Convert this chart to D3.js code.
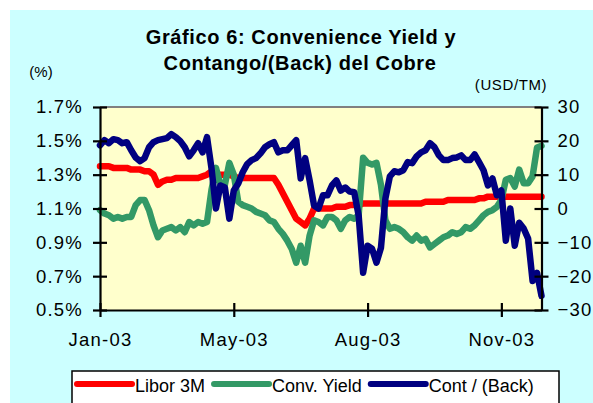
<!DOCTYPE html>
<html>
<head>
<meta charset="utf-8">
<script src="https://cdn.jsdelivr.net/npm/d3@7"></script>
<style>
  html, body { margin: 0; padding: 0; background: #ffffff; }
  svg { display: block; }
  text { font-family: "Liberation Sans", Arial, sans-serif; fill: #000; }
</style>
</head>
<body>
<svg id="chart" width="593" height="403"></svg>
<script>
// ---- data (one value per trading-day sample) ----
const libor = [1.35,1.35,1.35,1.34,1.34,1.34,1.34,1.33,1.33,1.33,
  1.32,1.32,1.30,1.24,1.26,1.27,1.27,1.28,1.28,1.28,
  1.28,1.28,1.28,1.29,1.30,1.32,1.30,1.30,1.30,1.30,
  1.29,1.28,1.28,1.28,1.28,1.28,1.28,1.28,1.28,1.28,
  1.24,1.19,1.14,1.09,1.04,1.02,1.00,1.04,1.10,1.10,
  1.10,1.10,1.10,1.11,1.11,1.11,1.12,1.12,1.12,1.13,
  1.13,1.13,1.13,1.13,1.13,1.13,1.13,1.13,1.13,1.13,
  1.13,1.13,1.13,1.14,1.14,1.14,1.14,1.14,1.15,1.15,
  1.15,1.15,1.15,1.15,1.15,1.16,1.16,1.17,1.17,1.17,
  1.17,1.17,1.17,1.17,1.17,1.17,1.17,1.17,1.17,1.17];
const convYield = [1.09,1.07,1.06,1.04,1.05,1.04,1.05,1.05,1.12,1.15,
  1.15,1.09,1.00,0.93,0.97,0.98,0.99,0.97,0.99,0.96,
  1.02,1.00,1.02,1.01,1.02,1.21,1.34,1.24,1.24,1.37,
  1.30,1.14,1.12,1.11,1.10,1.08,1.07,1.06,1.03,1.02,
  0.98,0.95,0.91,0.86,0.78,0.88,0.78,0.94,1.03,1.02,
  1.00,1.05,1.05,1.03,0.98,1.03,1.05,1.04,1.06,1.40,
  1.37,1.36,1.37,1.24,1.03,0.98,0.99,0.98,0.96,0.93,
  0.91,0.94,0.91,0.92,0.87,0.89,0.91,0.93,0.94,0.96,
  0.95,0.96,0.99,0.98,1.00,1.03,1.06,1.08,1.09,1.11,
  1.15,1.27,1.28,1.23,1.33,1.25,1.25,1.29,1.46,1.47];
const contBack = [18.7,20.2,19.3,20.5,20.2,19.3,19.6,17.2,15.1,14.0,
  14.9,18.1,19.6,20.2,20.5,20.8,22.0,21.1,19.9,18.1,
  15.4,17.2,19.3,16.6,21.1,11.9,0.0,6.8,6.2,-3.0,
  5.3,7.4,10.7,13.1,14.3,14.9,16.3,18.1,19.0,19.6,
  16.6,17.2,17.2,18.7,20.2,8.9,14.9,8.3,0.9,0.0,
  3.9,3.9,6.8,8.3,5.3,6.2,5.0,4.8,-2.1,-19.0,
  -11.0,-11.9,-16.0,-11.6,3.0,9.5,11.0,10.7,11.3,13.7,
  13.4,15.4,16.6,17.2,19.3,18.1,15.7,14.3,14.3,14.9,
  15.1,15.7,14.3,14.3,16.0,13.7,11.3,6.8,8.9,3.9,
  5.3,-9.5,0.0,-11.0,-4.2,-5.9,-8.9,-21.4,-19.0,-25.8];

const xTickIndex = [0, 30, 60, 90];
const xTickLabels = ["Jan-03", "May-03", "Aug-03", "Nov-03"];
const leftTicks = [0.5, 0.7, 0.9, 1.1, 1.3, 1.5, 1.7];
const rightTicks = [-30, -20, -10, 0, 10, 20, 30];
const seriesNames = ["Libor 3M", "Conv. Yield", "Cont / (Back)"];
const seriesColors = ["#ff0000", "#339966", "#000080"];
const titleLines = ["Gráfico 6: Convenience Yield y", "Contango/(Back) del Cobre"];

// ---- layout ----
const svg = d3.select("#chart");
const plot = { left: 100, right: 541.5, top: 107, bottom: 310 };

svg.append("rect").attr("x", 10).attr("y", 10).attr("width", 583).attr("height", 393).attr("fill", "#ccffff");
svg.append("rect").attr("x", plot.left).attr("y", plot.top)
  .attr("width", plot.right - plot.left).attr("height", plot.bottom - plot.top).attr("fill", "#ffffcc");
svg.append("line").attr("x1", plot.left).attr("x2", plot.right).attr("y1", plot.top).attr("y2", plot.top)
  .attr("stroke", "#808080").attr("stroke-width", 2);

const x = d3.scaleLinear().domain([0, libor.length - 1]).range([plot.left, plot.right]);
const yL = d3.scaleLinear().domain([0.5, 1.7]).range([plot.bottom, plot.top]);
const yR = d3.scaleLinear().domain([-30, 30]).range([plot.bottom, plot.top]);

// ---- series ----
const lineL = d3.line().x((d, i) => x(i)).y(d => yL(d));
const lineR = d3.line().x((d, i) => x(i)).y(d => yR(d));
const seriesData = [
  { values: libor, gen: lineL },
  { values: convYield, gen: lineL },
  { values: contBack, gen: lineR }
];
seriesData.forEach((s, k) => {
  svg.append("path").datum(s.values).attr("d", s.gen)
    .attr("fill", "none").attr("stroke", seriesColors[k]).attr("stroke-width", 6.5)
    .attr("stroke-linejoin", "round").attr("stroke-linecap", "round");
});

// ---- axes ----
const tickFont = "18.5px";
const axL = svg.append("g").attr("transform", `translate(${plot.left},0)`)
  .call(d3.axisLeft(yL).tickValues(leftTicks).tickSizeOuter(0).tickSizeInner(7).tickPadding(10)
    .tickFormat(d => d3.format(".1f")(d) + "%"));
axL.selectAll(".tick line").attr("x1", 7);
axL.selectAll(".tick text").attr("x", -17);

const axR = svg.append("g").attr("transform", `translate(${plot.right},0)`)
  .call(d3.axisRight(yR).tickValues(rightTicks).tickSizeOuter(0).tickSizeInner(7).tickPadding(10));
axR.selectAll(".tick line").attr("x1", -7);
axR.selectAll(".tick text").attr("x", 16);

const axB = svg.append("g").attr("transform", `translate(0,${plot.bottom})`)
  .call(d3.axisBottom(x).tickValues(xTickIndex).tickSizeOuter(0).tickSizeInner(7)
    .tickFormat((d, i) => xTickLabels[i]));
axB.selectAll(".tick line").attr("y1", -7);
axB.selectAll(".tick text").attr("y", 36).attr("dy", 0);

[axL, axR, axB].forEach(a => {
  a.select(".domain").attr("stroke", "#000").attr("stroke-width", 2.2);
  a.selectAll(".tick line").attr("stroke", "#000").attr("stroke-width", 2.2);
  a.selectAll(".tick text").style("font-family", '"Liberation Sans", Arial, sans-serif')
    .style("font-size", tickFont).style("letter-spacing", "1.2px").attr("fill", "#000");
});

// ---- titles ----
svg.append("text").attr("x", 301).attr("y", 44).attr("text-anchor", "middle")
  .style("font-size", "20px").style("font-weight", "bold").style("letter-spacing", "0.6px").text(titleLines[0]);
svg.append("text").attr("x", 300).attr("y", 70).attr("text-anchor", "middle")
  .style("font-size", "20px").style("font-weight", "bold").style("letter-spacing", "0.6px").text(titleLines[1]);
svg.append("text").attr("x", 41).attr("y", 77).attr("text-anchor", "middle")
  .style("font-size", "15px").text("(%)");
svg.append("text").attr("x", 511).attr("y", 90).attr("text-anchor", "middle")
  .style("font-size", "15px").style("letter-spacing", "0.6px").text("(USD/TM)");

// ---- legend ----
const lg = svg.append("g");
lg.append("rect").attr("x", 72).attr("y", 371).attr("width", 487).attr("height", 50)
  .attr("fill", "#ffffff").attr("stroke", "#000").attr("stroke-width", 1.5);
let cx = 77;
seriesNames.forEach((name, k) => {
  lg.append("line").attr("x1", cx).attr("x2", cx + 55).attr("y1", 384).attr("y2", 384)
    .attr("stroke", seriesColors[k]).attr("stroke-width", 6).attr("stroke-linecap", "round");
  const t = lg.append("text").attr("x", cx + 58).attr("y", 392).style("font-size", "18px").text(name);
  cx = cx + 58 + t.node().getComputedTextLength() + 9;
});
</script>
</body>
</html>
